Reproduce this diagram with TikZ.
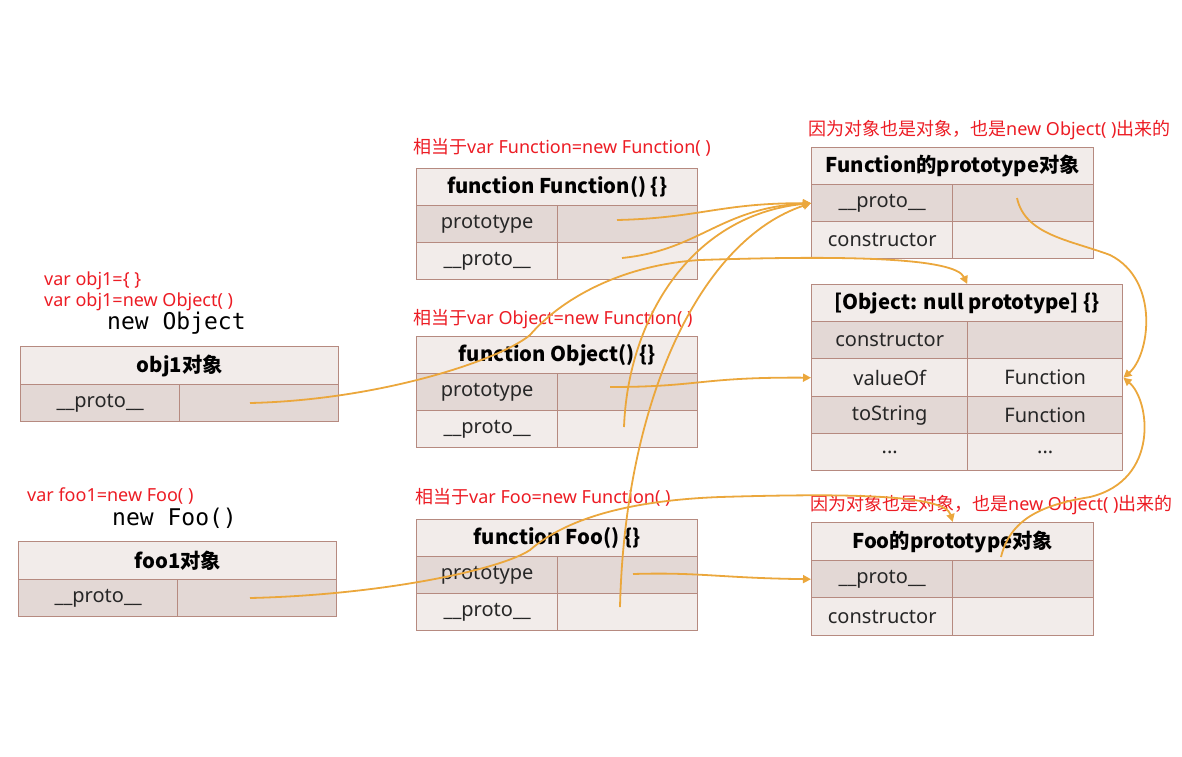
\documentclass[tikz,border=0pt]{standalone}
\usepackage{fontspec}
\setmainfont{Noto Sans}
\setmonofont{DejaVu Sans Mono}
\newfontfamily\cjk{Noto Sans CJK SC}
\usetikzlibrary{arrows.meta}
\definecolor{bordc}{RGB}{182,138,128}
\definecolor{lightc}{RGB}{242,236,234}
\definecolor{darkc}{RGB}{227,216,213}
\definecolor{redc}{RGB}{236,28,36}
\definecolor{orc}{RGB}{235,167,60}
\begin{document}
\begin{tikzpicture}[x=1pt,y=-1pt,
  cell/.style={draw=bordc,line width=1.4pt,inner sep=0pt,anchor=north west,text=black!85,font=\fontsize{20}{24}\selectfont},
  hd/.style={cell,fill=lightc,text=black,font=\cjk\bfseries\fontsize{20.3}{24}\selectfont},
  dk/.style={cell,fill=darkc},
  lt/.style={cell,fill=lightc},
  lbl/.style={anchor=west,inner sep=0pt,text=redc,font=\fontsize{18}{21}\selectfont},
  codetxt/.style={anchor=west,inner sep=0pt,font=\ttfamily\fontsize{23}{27}\selectfont},
  conn/.style={draw=orc,line width=1.8pt,-{Triangle[length=8pt,width=8pt]}},
]
\useasboundingbox (0,0) rectangle (1182,756);

% ---- function Function() {}
\node[hd,minimum width=281pt,minimum height=37pt] (Ft) at (416,168) {function Function() \{\}};
\node[dk,minimum width=141pt,minimum height=37pt] (Fp) at (416,205) {prototype};
\node[dk,minimum width=140pt,minimum height=37pt] (Fpv) at (557,205) {};
\node[lt,minimum width=141pt,minimum height=37pt] (Fq) at (416,242) {\_\_proto\_\_};
\node[lt,minimum width=140pt,minimum height=37pt] (Fqv) at (557,242) {};

% ---- function Object() {}
\node[hd,minimum width=281pt,minimum height=37pt] (Ot) at (416,336) {function Object() \{\}};
\node[dk,minimum width=141pt,minimum height=37pt] (Op) at (416,373) {prototype};
\node[dk,minimum width=140pt,minimum height=37pt] (Opv) at (557,373) {};
\node[lt,minimum width=141pt,minimum height=37pt] (Oq) at (416,410) {\_\_proto\_\_};
\node[lt,minimum width=140pt,minimum height=37pt] (Oqv) at (557,410) {};

% ---- function Foo() {}
\node[hd,minimum width=281pt,minimum height=37pt] (Fot) at (416,519) {function Foo() \{\}};
\node[dk,minimum width=141pt,minimum height=37pt] (Fop) at (416,556) {prototype};
\node[dk,minimum width=140pt,minimum height=37pt] (Fopv) at (557,556) {};
\node[lt,minimum width=141pt,minimum height=37pt] (Foq) at (416,593) {\_\_proto\_\_};
\node[lt,minimum width=140pt,minimum height=37pt] (Foqv) at (557,593) {};

% ---- obj1
\node[hd,minimum width=318pt,minimum height=38pt] (ot) at (20,346) {obj1对象};
\node[dk,minimum width=159pt,minimum height=37pt] (oq) at (20,384) {\_\_proto\_\_};
\node[dk,minimum width=159pt,minimum height=37pt] (oqv) at (179,384) {};

% ---- foo1
\node[hd,minimum width=318pt,minimum height=38pt] (ft) at (18,541) {foo1对象};
\node[dk,minimum width=159pt,minimum height=37pt] (fq) at (18,579) {\_\_proto\_\_};
\node[dk,minimum width=159pt,minimum height=37pt] (fqv) at (177,579) {};

% ---- Function prototype object
\node[hd,minimum width=282pt,minimum height=37pt] (FPt) at (811,147) {Function的prototype对象};
\node[dk,minimum width=141pt,minimum height=37pt] (FPq) at (811,184) {\_\_proto\_\_};
\node[dk,minimum width=141pt,minimum height=37pt] (FPqv) at (952,184) {};
\node[lt,minimum width=141pt,minimum height=37pt] (FPc) at (811,221) {constructor};
\node[lt,minimum width=141pt,minimum height=37pt] (FPcv) at (952,221) {};

% ---- Object prototype
\node[hd,minimum width=311pt,minimum height=37pt] (OPt) at (811,284) {[Object: null prototype] \{\}};
\node[dk,minimum width=156pt,minimum height=37pt] (OPc) at (811,321) {constructor};
\node[dk,minimum width=155pt,minimum height=37pt] (OPcv) at (967,321) {};
\node[lt,minimum width=156pt,minimum height=38pt] (OPv) at (811,358) {valueOf};
\node[lt,minimum width=155pt,minimum height=38pt] (OPvv) at (967,358) {Function};
\node[dk,minimum width=156pt,minimum height=37pt] (OPs) at (811,396) {toString};
\node[dk,minimum width=155pt,minimum height=37pt] (OPsv) at (967,396) {Function};
\node[lt,minimum width=156pt,minimum height=37pt] (OPe) at (811,433) {...};
\node[lt,minimum width=155pt,minimum height=37pt] (OPev) at (967,433) {...};

% ---- Foo prototype
\node[hd,minimum width=282pt,minimum height=38pt] (FoPt) at (811,522) {Foo的prototype对象};
\node[dk,minimum width=141pt,minimum height=37pt] (FoPq) at (811,560) {\_\_proto\_\_};
\node[dk,minimum width=141pt,minimum height=37pt] (FoPqv) at (952,560) {};
\node[lt,minimum width=141pt,minimum height=38pt] (FoPc) at (811,597) {constructor};
\node[lt,minimum width=141pt,minimum height=38pt] (FoPcv) at (952,597) {};

% ---- labels
\node[lbl] (l1) at (413,147) {{\cjk 相当于}var Function=new Function( )};
\node[lbl] (l2) at (413,319) {{\cjk 相当于}var Object=new Function( )};
\node[lbl] (l3) at (415,497) {{\cjk 相当于}var Foo=new Function( )};
\node[lbl] (l4) at (808,130) {{\cjk 因为对象也是对象，也是}new Object( ){\cjk 出来的}};
\node[lbl] (l5) at (810,505) {{\cjk 因为对象也是对象，也是}new Object( ){\cjk 出来的}};
\node[lbl] (l6) at (44,281) {var obj1=\{ \}};
\node[lbl] (l7) at (44,302) {var obj1=new Object( )};
\node[codetxt] (c1) at (107,323) {new Object};
\node[lbl] (l8) at (27,496) {var foo1=new Foo( )};
\node[codetxt] (c2) at (112,518) {new Foo()};

% ---- connector start points
\coordinate (s1) at (617,220);
\coordinate (s2) at (622,258);
\coordinate (s3) at (624,427);
\coordinate (s4) at (620,607);
\coordinate (s5) at (610,387);
\coordinate (s6) at (633,574);
\coordinate (s7) at (250,403);
\coordinate (s8) at (250,598);
\coordinate (s9) at (1017,198);
\coordinate (s10) at (1001,557);

% ---- connectors
\draw[conn] (s1) .. controls (700,218) and (720,203) .. (FPq.west);
\draw[conn] (s2) .. controls (700,250) and (720,208) .. (FPq.west);
\draw[conn] (s3) .. controls (628,320) and (690,215) .. (FPq.west);
\draw[conn] (s4) .. controls (625,400) and (700,240) .. (FPq.west);
\draw[conn] (s5) .. controls (700,387) and (700,377) .. (OPv.west);
\draw[conn] (s6) .. controls (700,572) and (720,578) .. (FoPq.west);
\draw[conn] (s7) .. controls (380,400) and (500,360) .. (530,335)
  .. controls (560,300) and (620,265) .. (700,260)
  .. controls (850,255) and (955,258) .. (OPt.north);
\draw[conn] (s8) .. controls (380,595) and (500,570) .. (530,550)
  .. controls (570,515) and (640,500) .. (720,497)
  .. controls (850,493) and (945,495) .. (FoPt.north);
\draw[conn] (s9) .. controls (1025,235) and (1070,240) .. (1110,255)
  .. controls (1160,280) and (1150,355) .. (OPvv.east);
\draw[conn] (s10) .. controls (1010,520) and (1040,505) .. (1090,497)
  .. controls (1160,480) and (1150,400) .. (OPvv.east);
\end{tikzpicture}
\end{document}
